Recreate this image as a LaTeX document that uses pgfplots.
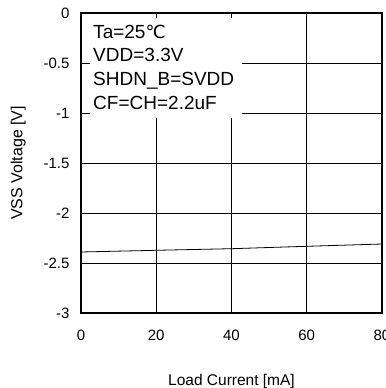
\documentclass[border=0pt]{standalone}
\usepackage{pgfplots}
\pgfplotsset{compat=1.18}
\usepackage{fontspec}
\setmainfont{Liberation Sans}
\newfontfamily\dejavu{DejaVu Sans}
\begin{document}
\begin{tikzpicture}
\begin{axis}[
  name=ax,
  scale only axis,
  width=301bp, height=300bp,
  xmin=0, xmax=80, ymin=-3, ymax=0,
  xtick={0,20,40,60,80},
  ytick={-3,-2.5,-2,-1.5,-1,-0.5,0},
  grid=major,
  major grid style={black, line width=0.8bp},
  axis line style={black, line width=1.4bp},
  major tick length=0pt,
  /pgf/number format/assume math mode=true,
  ticklabel style={font=\fontsize{15bp}{17bp}\selectfont},
  xticklabel style={yshift=-14bp},
  yticklabel style={xshift=-8bp},
  xlabel={Load Current [mA]},
  ylabel={VSS Voltage [V]},
  xlabel style={font=\fontsize{15.5bp}{18bp}\selectfont, yshift=-26bp},
  ylabel style={font=\fontsize{16bp}{18bp}\selectfont, yshift=11bp},
]
\addplot[black, line width=0.8bp] coordinates {(0,-2.39) (20,-2.373) (40,-2.357) (60,-2.333) (80,-2.31)};
\fill[white] (axis cs:2.4,-0.05) rectangle (axis cs:42.9,-1.05);
\node[anchor=north west, inner sep=0pt, align=left, font=\fontsize{19bp}{23.7bp}\selectfont]
  at (axis cs:3.2,-0.115) {Ta=25{\dejavu\fontsize{18bp}{23.7bp}\selectfont ℃}\\VDD=3.3V\\SHDN\_B=SVDD\\CF=CH=2.2uF};
\end{axis}
\pgfresetboundingbox
\path[use as bounding box] ([shift={(-81bp,-75bp)}]ax.south west) rectangle ([shift={(4bp,13bp)}]ax.north east);
\end{tikzpicture}
\end{document}
